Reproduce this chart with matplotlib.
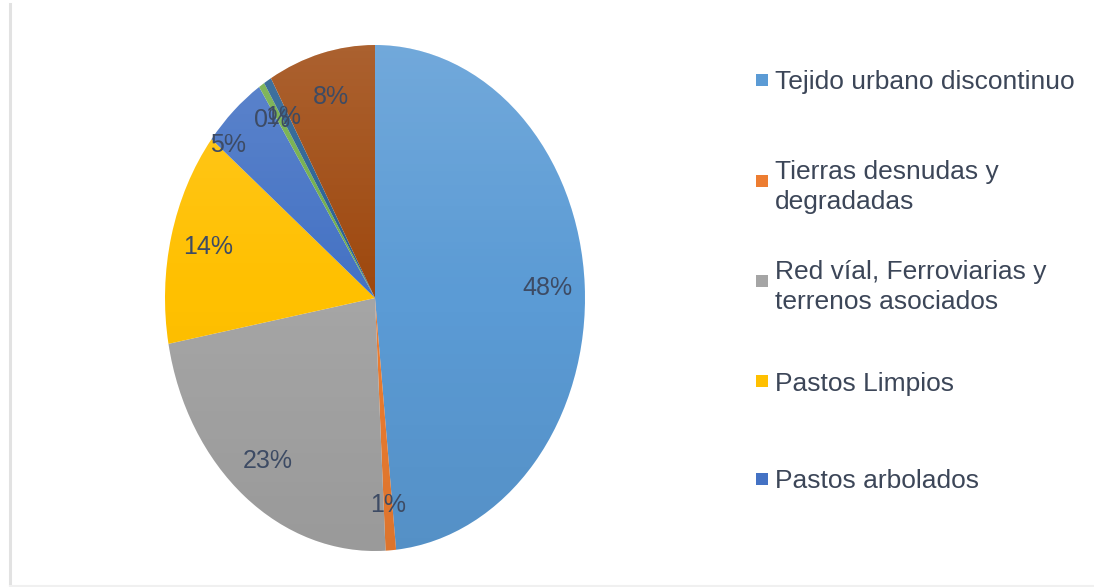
import numpy as np
import matplotlib
matplotlib.use("Agg")
import matplotlib.pyplot as plt
from matplotlib.patches import Rectangle, Ellipse
from matplotlib.lines import Line2D

# Land-cover shares (%) in clockwise order from 12 o'clock
categories = [
    "Tejido urbano discontinuo",
    "Tierras desnudas y degradadas",
    "Red víal, Ferroviarias y terrenos asociados",
    "Pastos Limpios",
    "Pastos arbolados",
    "Vegetación secundaria",
    "Cuerpos de agua",
    "Zonas industriales",
]
shares = [48.4, 0.8, 22.9, 13.7, 4.9, 0.45, 0.6, 8.25]
colors = ["#5B9BD5", "#ED7D31", "#A5A5A5", "#FFC000",
          "#4472C4", "#70AD47", "#255E91", "#9E480E"]

# Legend shows only the first five entries (wrapped as in the layout)
legend_labels = [
    "Tejido urbano discontinuo",
    "Tierras desnudas y\ndegradadas",
    "Red víal, Ferroviarias y\nterrenos asociados",
    "Pastos Limpios",
    "Pastos arbolados",
]

FONT = ["Liberation Sans Narrow", "Liberation Sans", "DejaVu Sans"]
TEXT_COLOR = "#3c4658"
PCT_COLOR = "#3d4b64"

W, H = 1094, 587
fig = plt.figure(figsize=(W / 100, H / 100), dpi=100)
fig.patch.set_facecolor("white")

# Pie axes: stretched vertically so the pie appears as an ellipse
cx, cy, rx, ry = 375, 298, 210, 253
ax = fig.add_axes([(cx - rx) / W, (H - cy - ry) / H, 2 * rx / W, 2 * ry / H])

wedges, _, autotexts = ax.pie(
    shares,
    colors=colors,
    startangle=90,
    counterclock=False,
    autopct=lambda p: f"{p:.0f}%",
    pctdistance=0.82,
    wedgeprops=dict(linewidth=0),
    textprops=dict(color=PCT_COLOR, fontsize=18, family=FONT),
)

# soft vertical shading over the pie: lighter at the top, a bit darker below
s = np.linspace(-1, 1, 256)
rgba = np.zeros((256, 1, 4))
rgba[:, 0, :3] = np.where(s[:, None] > 0, 1.0, 0.0)
rgba[:, 0, 3] = np.where(s > 0, 0.14 * s, 0.07 * -s)
img = ax.imshow(rgba, extent=(-1, 1, -1, 1), origin="lower",
                aspect="auto", interpolation="bilinear", zorder=2)
clip = Ellipse((0, 0), 2, 2, transform=ax.transData)
img.set_clip_path(clip)

# nudge crowded labels of the thin wedges (pixels)
nudges = {4: (-31, 0), 5: (-10, 3), 6: (-4, 3)}
for i, t in enumerate(autotexts):
    t.set_zorder(3)
    if i in nudges:
        dx, dy = nudges[i]
        x, y = t.get_position()
        t.set_position((x + dx / rx, y + dy / ry))

ax.set_aspect("auto")
ax.set_xlim(-1, 1)
ax.set_ylim(-1, 1)
ax.axis("off")

# Legend drawn as marker squares and text
legend_top = [80, 181, 281, 381, 479]
for lab, col, ytop in zip(legend_labels, colors, legend_top):
    fig.patches.append(Rectangle((756 / W, (H - ytop - 6) / H), 12 / W, 12 / H,
                                 transform=fig.transFigure, facecolor=col,
                                 edgecolor="none"))
    fig.text(775 / W, (H - ytop) / H, lab, ha="left", va="center_baseline",
             fontsize=19, color=TEXT_COLOR, family=FONT, linespacing=1.32)

# thin frame remnants at the left and bottom edges
fig.add_artist(Line2D([9.5 / W, 9.5 / W], [0, (H - 4) / H], color="#e2e2e2",
                      linewidth=2.2, transform=fig.transFigure))
fig.add_artist(Line2D([9.5 / W, 1], [1.5 / H, 1.5 / H], color="#f0f0f0",
                      linewidth=1.5, transform=fig.transFigure))

fig.savefig("out.png", dpi=100, facecolor="white")
